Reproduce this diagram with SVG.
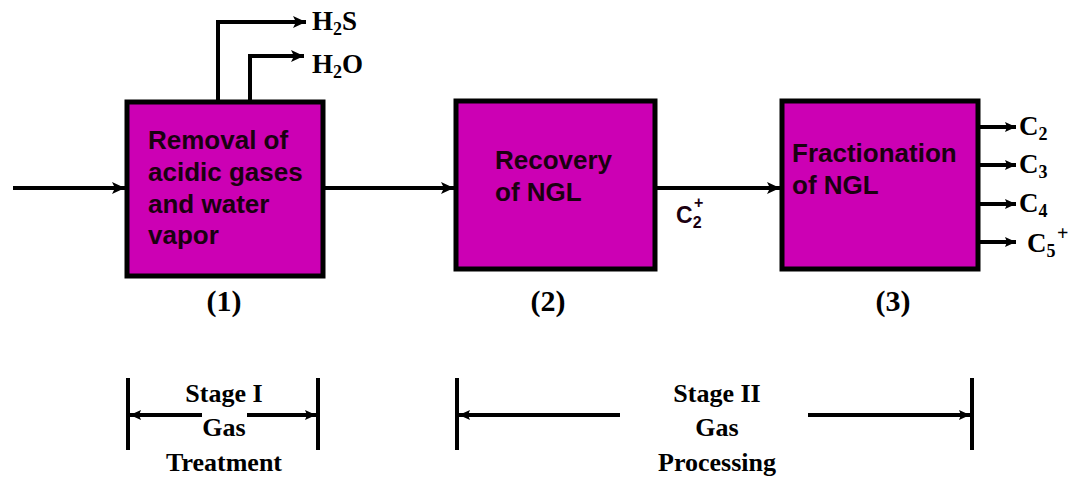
<svg xmlns="http://www.w3.org/2000/svg" width="1072" height="480" viewBox="0 0 1072 480">
<style>
.box{fill:#CC00B4;stroke:#000;stroke-width:5}
.ln{fill:none;stroke:#000;stroke-width:4}
.bt{font-family:"Liberation Sans",Arial,sans-serif;font-weight:bold;font-size:26px;fill:#1a0010}
.sr{font-family:"Liberation Serif","Times New Roman",serif;font-weight:bold;font-size:27px;fill:#000}
.num{font-family:"Liberation Serif","Times New Roman",serif;font-weight:bold;font-size:30px;fill:#000;text-anchor:middle}
.st{font-family:"Liberation Serif","Times New Roman",serif;font-weight:bold;font-size:26px;fill:#000;text-anchor:middle}
.sub{font-size:18px}
</style>
<defs>
<marker id="ah" markerUnits="userSpaceOnUse" markerWidth="14" markerHeight="14" refX="13" refY="7" orient="auto">
<path d="M0,1 L13,7 L0,13 L3,7 Z" fill="#000"/>
</marker>
<marker id="as" markerUnits="userSpaceOnUse" markerWidth="12" markerHeight="12" refX="11" refY="6" orient="auto">
<path d="M0,1 L11,6 L0,11 L2,6 Z" fill="#000"/>
</marker>
</defs>
<g id="connectors">
<line class="ln" x1="13" y1="188" x2="125" y2="188" marker-end="url(#ah)"/>
<line class="ln" x1="325" y1="188" x2="454" y2="188" marker-end="url(#ah)"/>
<line class="ln" x1="657" y1="188" x2="780" y2="188" marker-end="url(#ah)"/>
<path class="ln" d="M218,100 V22 H306" marker-end="url(#ah)"/>
<path class="ln" d="M250,100 V56 H304" marker-end="url(#ah)"/>
<line class="ln" x1="980" y1="127" x2="1016" y2="127" marker-end="url(#as)"/>
<line class="ln" x1="980" y1="165" x2="1016" y2="165" marker-end="url(#as)"/>
<line class="ln" x1="980" y1="204" x2="1016" y2="204" marker-end="url(#as)"/>
<line class="ln" x1="980" y1="242" x2="1016" y2="242" marker-end="url(#as)"/>
</g>
<g id="node1">
<rect class="box" x="127" y="102" width="196" height="174"/>
<text class="bt" x="148" y="149">Removal of</text>
<text class="bt" x="148" y="181">acidic gases</text>
<text class="bt" x="148" y="213">and water</text>
<text class="bt" x="148" y="244">vapor</text>
<text class="num" x="224" y="311">(1)</text>
</g>
<g id="node2">
<rect class="box" x="456" y="101" width="199" height="168"/>
<text class="bt" x="495" y="169">Recovery</text>
<text class="bt" x="495" y="201">of NGL</text>
<text class="num" x="548" y="311">(2)</text>
</g>
<g id="node3">
<rect class="box" x="782" y="101" width="196" height="168"/>
<text class="bt" x="792" y="162">Fractionation</text>
<text class="bt" x="792" y="194">of NGL</text>
<text class="num" x="893" y="311">(3)</text>
</g>
<g id="labels">
<text class="sr" x="312" y="30">H<tspan class="sub" dy="5">2</tspan><tspan dy="-5">S</tspan></text>
<text class="sr" x="312" y="73">H<tspan class="sub" dy="5">2</tspan><tspan dy="-5">O</tspan></text>
<text class="bt" x="676" y="223" style="font-size:23px">C<tspan style="font-size:16px" dy="5">2</tspan></text>
<text class="bt" x="694" y="208" style="font-size:16px">+</text>
<text class="sr" x="1019" y="135">C<tspan class="sub" dy="5">2</tspan></text>
<text class="sr" x="1019" y="173">C<tspan class="sub" dy="5">3</tspan></text>
<text class="sr" x="1019" y="212">C<tspan class="sub" dy="5">4</tspan></text>
<text class="sr" x="1027" y="252">C<tspan class="sub" dy="5">5</tspan></text>
<text class="sr" x="1057" y="240" style="font-size:20px">+</text>
</g>
<g id="stage1">
<line class="ln" x1="128" y1="378" x2="128" y2="450"/>
<line class="ln" x1="318" y1="378" x2="318" y2="450"/>
<line class="ln" x1="202" y1="415" x2="130" y2="415" marker-end="url(#as)"/>
<line class="ln" x1="247" y1="415" x2="316" y2="415" marker-end="url(#as)"/>
<text class="st" x="224" y="402">Stage I</text>
<text class="st" x="224" y="436">Gas</text>
<text class="st" x="224" y="471">Treatment</text>
</g>
<g id="stage2">
<line class="ln" x1="457" y1="378" x2="457" y2="450"/>
<line class="ln" x1="972" y1="378" x2="972" y2="450"/>
<line class="ln" x1="620" y1="415" x2="459" y2="415" marker-end="url(#as)"/>
<line class="ln" x1="808" y1="415" x2="970" y2="415" marker-end="url(#as)"/>
<text class="st" x="717" y="402">Stage II</text>
<text class="st" x="717" y="436">Gas</text>
<text class="st" x="717" y="471">Processing</text>
</g>
</svg>
